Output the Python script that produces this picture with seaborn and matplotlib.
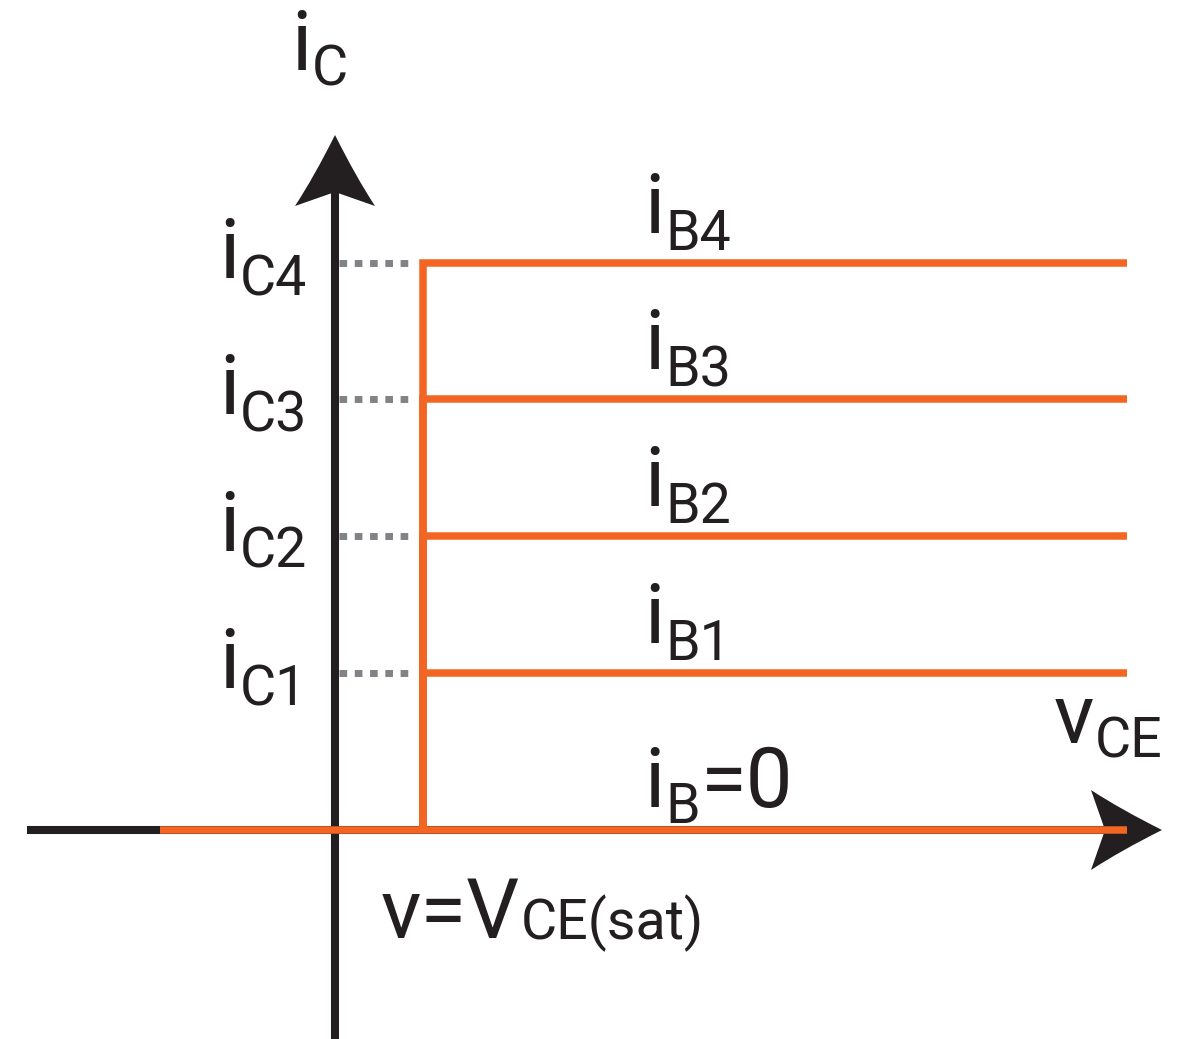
import matplotlib
matplotlib.use('Agg')
import matplotlib.pyplot as plt
from matplotlib.path import Path
from matplotlib.patches import PathPatch
import numpy as np
import pandas as pd
import seaborn as sns

# collector current levels i_C1..i_C4 (one per base current curve)
ic_levels = [1.57, 2.94, 4.31, 5.67]
ic_names = ['C1', 'C2', 'C3', 'C4']
ib_names = ['B1', 'B2', 'B3', 'B4']
v_sat = 0.88     # V_CE(sat)
v_end = 7.92     # right end of the curves
v_cut = -1.75    # left end of the i_B=0 line

ORANGE = '#F26522'
INK = '#231F20'
GREY = '#808285'

sns.set_theme(style='white')
plt.rcParams['font.family'] = ['Roboto', 'DejaVu Sans']
plt.rcParams['font.weight'] = 'normal'

#build the output characteristic curves as one long table
rows = []
for name, ic in zip(ib_names, ic_levels):
    for v, i in [(v_sat, 0), (v_sat, ic), (v_end, ic)]:
        rows.append({'curve': name, 'v': v, 'i': i})
for v in [v_cut, v_end]:
    rows.append({'curve': 'B0', 'v': v, 'i': 0})
curves = pd.DataFrame(rows)


def arrow_head(ax, tip, angle, length=0.71, half=0.40, notch=0.57):
    # arrow pointing along +x, tip at origin, then rotated
    verts = np.array([(0, 0), (-0.42, 0.21), (-length, half), (-notch, 0),
                      (-length, -half), (-0.42, -0.21), (0, 0), (0, 0)])
    codes = [Path.MOVETO, Path.CURVE3, Path.CURVE3, Path.LINETO,
             Path.LINETO, Path.CURVE3, Path.CURVE3, Path.CLOSEPOLY]
    a = np.deg2rad(angle)
    rot = np.array([[np.cos(a), -np.sin(a)], [np.sin(a), np.cos(a)]])
    verts = verts @ rot.T + np.array(tip)
    ax.add_patch(PathPatch(Path(verts, codes), facecolor=INK, edgecolor='none', zorder=3))


#main letter at (x, y) baseline, subscript glued to its right end at baseline sy
def sub_label(ax, x, y, main, sy, sub, gap=0.5, main_size=60, sub_size=40):
    t = ax.text(x, y, main, fontsize=main_size, color=INK, ha='left', va='baseline')
    s = ax.annotate(sub, xy=(1, sy), xycoords=(t, 'data'), xytext=(gap, 0),
                    textcoords='offset points', fontsize=sub_size, color=INK,
                    ha='left', va='baseline')
    return s


fig = plt.figure(figsize=(11.9, 10.39), dpi=100)
ax = fig.add_axes([0, 0, 1, 1])
ax.set_xlim(-3.35, 8.55)
ax.set_ylim(-2.09, 8.30)

# coordinate axes
ax.plot([-3.08, 7.9], [0, 0], color=INK, lw=5.8, solid_capstyle='butt', zorder=2)
ax.plot([0, 0], [-2.3, 6.5], color=INK, lw=5.8, solid_capstyle='butt', zorder=2)
arrow_head(ax, (8.27, 0), 0)
arrow_head(ax, (0, 6.95), 90)

# dotted guides from the axis to the saturation line
for ic in ic_levels:
    ax.plot([0.04, 0.80], [ic, ic], color=GREY, lw=5.0,
            linestyle=(0, (1.1, 1.1)), dash_capstyle='butt', zorder=2)

sns.lineplot(data=curves, x='v', y='i', units='curve', estimator=None, sort=False,
             color=ORANGE, linewidth=5.4, solid_capstyle='butt',
             solid_joinstyle='miter', legend=False, ax=ax, zorder=4)

# labels
sub_label(ax, -0.44, 7.60, 'i', 7.44, 'C')
for name, ic in zip(ic_names, ic_levels):
    sub_label(ax, -1.16, ic - 0.15, 'i', ic - 0.32, name)
for name, ic in zip(ib_names, ic_levels):
    sub_label(ax, 3.09, ic + 0.30, 'i', ic + 0.13, name)
s = sub_label(ax, 3.09, 0.23, 'i', 0.07, 'B')
ax.annotate('=0', xy=(1, 0.23), xycoords=(s, 'data'), xytext=(1, 0),
            textcoords='offset points', fontsize=60, color=INK,
            ha='left', va='baseline')
sub_label(ax, 7.19, 0.87, 'v', 0.72, 'CE')
sub_label(ax, 0.46, -1.08, 'v=V', -1.09, 'CE(sat)', gap=0)

ax.set_xlim(-3.35, 8.55)
ax.set_ylim(-2.09, 8.30)
ax.axis('off')

fig.savefig('out.png', dpi=100)
